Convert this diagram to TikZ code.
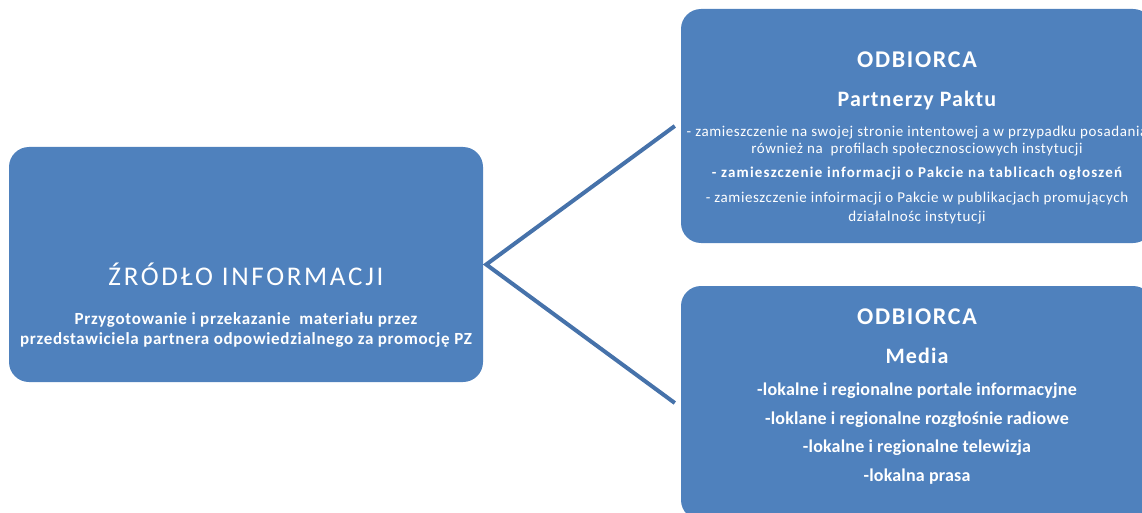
\documentclass[tikz,border=0pt]{standalone}
\usepackage{fontspec}
\setmainfont{Carlito}
\definecolor{boxblue}{HTML}{4F81BD}
\definecolor{linkblue}{HTML}{4672AA}
\begin{document}
\begin{tikzpicture}[x=1pt,y=-1pt,
  box/.style={fill=boxblue, draw=none, rounded corners=20pt, inner sep=0pt},
  txt/.style={text=white, anchor=base, inner sep=0pt},
  bigtitle/.style={txt, font={\fontsize{27}{30}\selectfont\addfontfeatures{LetterSpace=10}}},
  head/.style={txt, font={\bfseries\fontsize{24}{28}\selectfont\addfontfeatures{LetterSpace=7}}},
  sub/.style={txt, font={\bfseries\fontsize{22}{26}\selectfont\addfontfeatures{LetterSpace=5}}},
  small/.style={txt, font={\fontsize{15}{17}\selectfont\addfontfeatures{LetterSpace=4}}},
  smallb/.style={txt, font={\bfseries\fontsize{15}{17}\selectfont\addfontfeatures{LetterSpace=8}}},
  srcsub/.style={txt, font={\bfseries\fontsize{17}{20}\selectfont\addfontfeatures{LetterSpace=4}}},
  mid/.style={txt, font={\bfseries\fontsize{18}{21}\selectfont\addfontfeatures{LetterSpace=1}}},
  link/.style={draw=linkblue, line width=4pt, line join=miter}]
\useasboundingbox (0,0) rectangle (1142,513);
% boxes
\node[box, minimum width=474pt, minimum height=235pt] (src) at (246,264.5) {};
\node[box, minimum width=472pt, minimum height=234pt] (top) at (917,126) {};
\node[box, minimum width=472pt, minimum height=234pt] (bot) at (917,403) {};
% connector
\draw[link] ([xshift=-6pt]top.west) -- ([xshift=3pt]src.east) -- ([xshift=-6pt]bot.west);
% source text
\node[bigtitle] (srctitle) at (246,285) {ŹRÓDŁO INFORMACJI};
\node[srcsub] (srcsubA) at (246,324) {Przygotowanie i przekazanie\ \ materiału przez};
\node[srcsub] (srcsubB) at (246,344) {przedstawiciela partnera odpowiedzialnego za promocję PZ};
% top receiver
\node[head] (tophead) at (917,68) {ODBIORCA};
\node[sub] (topsub) at (917,107) {Partnerzy Paktu};
\node[small] (topA) at (917,137) {- zamieszczenie na swojej stronie intentowej a w przypadku posadania};
\node[small] (topB) at (917,154) {również na\ \ profilach społecznosciowych instytucji};
\node[smallb] (topC) at (917,178) {- zamieszczenie informacji o Pakcie na tablicach ogłoszeń};
\node[small] (topD) at (917,202) {- zamieszczenie infoirmacji o Pakcie w publikacjach promujących};
\node[small] (topE) at (917,221) {działalnośc instytucji};
% bottom receiver
\node[head] (bothead) at (917,324) {ODBIORCA};
\node[sub] (botsub) at (917,363) {Media};
\node[mid] (botA) at (917,395) {-lokalne i regionalne portale informacyjne};
\node[mid] (botB) at (917,424) {-loklane i regionalne rozgłośnie radiowe};
\node[mid] (botC) at (917,452) {-lokalne i regionalne telewizja};
\node[mid] (botD) at (917,481) {-lokalna prasa};
\end{tikzpicture}
\end{document}
